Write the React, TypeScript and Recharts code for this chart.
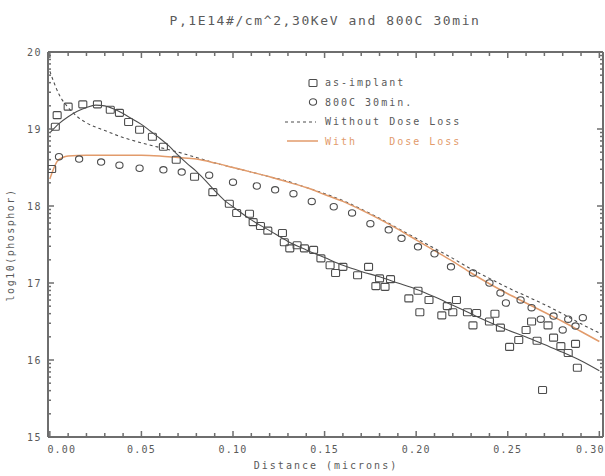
import React from 'react';
import { ComposedChart, Line, XAxis, YAxis } from 'recharts';

// measured profiles, [depth in microns, log10 concentration]
const asImplant: [number, number][] = [
  [0.001, 18.48], [0.003, 19.03], [0.004, 19.18], [0.01, 19.29], [0.018, 19.32], [0.026, 19.32],
  [0.033, 19.25], [0.038, 19.21], [0.043, 19.09], [0.049, 18.99], [0.056, 18.9], [0.062, 18.77],
  [0.069, 18.6], [0.079, 18.38], [0.089, 18.18], [0.098, 18.03], [0.102, 17.91], [0.109, 17.9],
  [0.111, 17.79], [0.115, 17.74], [0.119, 17.68], [0.127, 17.65], [0.128, 17.53], [0.131, 17.45],
  [0.135, 17.49], [0.139, 17.45], [0.144, 17.43], [0.148, 17.32], [0.153, 17.23], [0.156, 17.13],
  [0.16, 17.21], [0.168, 17.1], [0.174, 17.21], [0.178, 16.96], [0.18, 17.06], [0.183, 16.95],
  [0.186, 17.05], [0.196, 16.8], [0.201, 16.9], [0.202, 16.62], [0.207, 16.78], [0.214, 16.58],
  [0.217, 16.7], [0.22, 16.62], [0.222, 16.78], [0.228, 16.62], [0.231, 16.45], [0.233, 16.61],
  [0.24, 16.5], [0.243, 16.6], [0.246, 16.42], [0.251, 16.17], [0.256, 16.26], [0.26, 16.39],
  [0.263, 16.5], [0.266, 16.25], [0.269, 15.61], [0.272, 16.45], [0.275, 16.29], [0.279, 16.18],
  [0.283, 16.09], [0.287, 16.21], [0.288, 15.9],
];

const anneal800: [number, number][] = [
  [0.005, 18.64], [0.016, 18.61], [0.028, 18.57], [0.038, 18.53], [0.049, 18.49], [0.062, 18.47],
  [0.072, 18.44], [0.087, 18.4], [0.1, 18.31], [0.113, 18.26], [0.123, 18.21], [0.133, 18.16],
  [0.143, 18.06], [0.155, 17.99], [0.165, 17.91], [0.175, 17.77], [0.185, 17.69], [0.192, 17.58],
  [0.201, 17.47], [0.21, 17.38], [0.219, 17.21], [0.231, 17.13], [0.24, 17.0], [0.246, 16.87],
  [0.249, 16.74], [0.257, 16.78], [0.263, 16.68], [0.268, 16.53], [0.275, 16.57], [0.28, 16.39],
  [0.283, 16.53], [0.287, 16.44], [0.291, 16.55],
];

// simulated curves
const implantFit: [number, number][] = [
  [0, 18.95], [0.005, 19.07], [0.01, 19.16], [0.015, 19.23], [0.02, 19.28], [0.025, 19.31],
  [0.03, 19.3], [0.035, 19.26], [0.04, 19.2], [0.045, 19.13], [0.05, 19.06], [0.055, 18.97],
  [0.06, 18.88], [0.065, 18.78], [0.07, 18.66], [0.075, 18.55], [0.08, 18.45], [0.085, 18.33],
  [0.09, 18.2], [0.095, 18.08], [0.1, 17.99], [0.11, 17.82], [0.12, 17.68], [0.13, 17.54],
  [0.14, 17.43], [0.15, 17.33], [0.16, 17.23], [0.17, 17.15], [0.18, 17.08], [0.19, 17.0],
  [0.2, 16.92], [0.21, 16.82], [0.22, 16.71], [0.23, 16.6], [0.24, 16.49], [0.25, 16.39],
  [0.26, 16.3], [0.27, 16.2], [0.28, 16.1], [0.29, 15.99], [0.3, 15.86],
];

const withoutLoss: [number, number][] = [
  [0, 19.75], [0.002, 19.62], [0.005, 19.45], [0.01, 19.28], [0.015, 19.16], [0.02, 19.08],
  [0.03, 18.98], [0.04, 18.89], [0.05, 18.82], [0.06, 18.76], [0.07, 18.7], [0.08, 18.63],
  [0.09, 18.56], [0.1, 18.5], [0.11, 18.44], [0.12, 18.38], [0.13, 18.32], [0.14, 18.24],
  [0.15, 18.16], [0.16, 18.07], [0.17, 17.96], [0.18, 17.84], [0.19, 17.71], [0.2, 17.58],
  [0.21, 17.45], [0.22, 17.32], [0.23, 17.18], [0.24, 17.06], [0.25, 16.94], [0.26, 16.83],
  [0.27, 16.72], [0.28, 16.6], [0.29, 16.47], [0.3, 16.35],
];

const withLoss: [number, number][] = [
  [0, 18.35], [0.002, 18.48], [0.004, 18.58], [0.007, 18.63], [0.01, 18.65], [0.02, 18.66],
  [0.03, 18.66], [0.04, 18.66], [0.05, 18.66], [0.06, 18.65], [0.07, 18.63], [0.08, 18.61],
  [0.09, 18.56], [0.1, 18.5], [0.11, 18.44], [0.12, 18.38], [0.13, 18.31], [0.14, 18.24],
  [0.15, 18.15], [0.16, 18.06], [0.17, 17.95], [0.18, 17.83], [0.19, 17.7], [0.2, 17.56],
  [0.21, 17.42], [0.22, 17.28], [0.23, 17.13], [0.24, 16.99], [0.25, 16.86], [0.26, 16.74],
  [0.27, 16.62], [0.28, 16.5], [0.29, 16.37], [0.3, 16.24],
];

const xTicks = Array.from({ length: 31 }, (_, i) => +(i * 0.01).toFixed(2));
const yMajor = [15, 16, 17, 18, 19, 20];
const yMinor = [15, 16, 17, 18, 19].flatMap((d) => [2, 3, 4, 5, 6, 7, 8, 9].map((k) => d + Math.log10(k)));
const yTicks = [...yMajor, ...yMinor];

const TITLE = 'P,1E14#/cm^2,30KeV and 800C 30min';

const AXIS = '#6e6e6e';
const INK = '#4d4d4d';
const TEXT = '#5a5a5a';
const ORANGE = '#e29b6b';
const MONO = '"DejaVu Sans Mono", monospace';

const toPts = (arr: [number, number][]) => arr.map(([x, y]) => ({ x, y }));

const isMajorX = (v: number) => Math.round(v * 100) % 5 === 0;
const isMajorY = (v: number) => Math.abs(v - Math.round(v)) < 1e-6;

const BottomTick = (p: any) => {
  const v = p.payload.value;
  const major = isMajorX(v);
  // first label sits clear of the axis, last one is kept inside the frame
  const dx = v === 0 ? 12 : v >= 0.3 ? -9 : 0;
  return (
    <g>
      <line x1={p.x} y1={p.y} x2={p.x} y2={p.y - (major ? 6 : 4)} stroke={AXIS} strokeWidth={1.5} />
      {major && (
        <text x={p.x + dx} y={p.y + 16} textAnchor="middle" fill={TEXT}
          fontFamily={MONO} fontSize={10} letterSpacing={1.2}>
          {v.toFixed(2)}
        </text>
      )}
    </g>
  );
};

const TopTick = (p: any) => (
  <g>
    <line x1={p.x} y1={p.y} x2={p.x} y2={p.y + (isMajorX(p.payload.value) ? 6 : 4)} stroke={AXIS} strokeWidth={1.5} />
  </g>
);

const LeftTick = (p: any) => {
  const v = p.payload.value;
  const major = isMajorY(v);
  return (
    <g>
      <line x1={p.x} y1={p.y} x2={p.x + (major ? 6 : 3)} y2={p.y} stroke={AXIS} strokeWidth={1.5} />
      {major && (
        <text x={p.x - 6} y={p.y} dy={4} textAnchor="end" fill={TEXT}
          fontFamily={MONO} fontSize={10} letterSpacing={1.5}>
          {Math.round(v)}
        </text>
      )}
    </g>
  );
};

const RightTick = (p: any) => (
  <g>
    <line x1={p.x} y1={p.y} x2={p.x - (isMajorY(p.payload.value) ? 6 : 3)} y2={p.y} stroke={AXIS} strokeWidth={1.5} />
  </g>
);

const Square = (p: any) => (
  <rect key={'s' + p.index} x={p.cx - 4} y={p.cy - 3.5} width={8} height={7} rx={1}
    fill="none" stroke={INK} strokeWidth={1.1} />
);

const Circle = (p: any) => (
  <ellipse key={'c' + p.index} cx={p.cx} cy={p.cy} rx={3.6} ry={3.2}
    fill="none" stroke={INK} strokeWidth={1.1} />
);

const legendRows = [
  { label: 'as-implant', kind: 'square', color: TEXT },
  { label: '800C 30min.', kind: 'circle', color: TEXT },
  { label: 'Without Dose Loss', kind: 'dash', color: TEXT },
  { label: 'With    Dose Loss', kind: 'line', color: ORANGE },
];

const LegendBox = () => (
  <div style={{ position: 'absolute', left: 283, top: 73, fontFamily: MONO, fontSize: 10, letterSpacing: 2 }}>
    {legendRows.map((r) => (
      <div key={r.label} style={{ display: 'flex', alignItems: 'center', height: 19.5 }}>
        <svg width={42} height={10} style={{ display: 'block' }}>
          {r.kind === 'square' && <rect x={26} y={1.5} width={8} height={7} rx={1} fill="none" stroke={INK} strokeWidth={1.1} />}
          {r.kind === 'circle' && <ellipse cx={30} cy={5} rx={3.6} ry={3.2} fill="none" stroke={INK} strokeWidth={1.1} />}
          {r.kind === 'dash' && <line x1={2} x2={33} y1={5} y2={5} stroke={INK} strokeWidth={1.1} strokeDasharray="3 3" />}
          {r.kind === 'line' && <line x1={4} x2={35} y1={5} y2={5} stroke={ORANGE} strokeWidth={1.5} />}
        </svg>
        <span style={{ color: r.color, whiteSpace: 'pre' }}>{r.label}</span>
      </div>
    ))}
  </div>
);

const X_DOMAIN: [number, number] = [-0.001, 0.302];
const Y_DOMAIN: [number, number] = [15, 20];

export default function App() {
  return (
    <div style={{ position: 'absolute', left: 0, top: 0, width: 605, height: 476, background: '#fff' }}>
      <ComposedChart width={605} height={476} margin={{ top: 51, right: 1, bottom: 0, left: 0 }}>
        <XAxis
          dataKey="x" type="number" domain={X_DOMAIN} allowDataOverflow ticks={xTicks} interval={0}
          tickSize={0} tickMargin={0} tick={BottomTick} height={39} axisLine={{ stroke: AXIS, strokeWidth: 2 }}
          label={() => (
            <text x={326} y={469} textAnchor="middle" fill={TEXT} fontFamily={MONO} fontSize={10} letterSpacing={2}>
              Distance (microns)
            </text>
          )}
        />
        {/* frame axes: a zero-size axis box is skipped, so they get 1px */}
        <XAxis
          xAxisId="top" orientation="top" dataKey="x" type="number" domain={X_DOMAIN} allowDataOverflow
          ticks={xTicks} interval={0} tickSize={0} tickMargin={0} tick={TopTick} height={1}
          axisLine={{ stroke: AXIS, strokeWidth: 2 }}
          label={() => (
            <text x={325} y={25} textAnchor="middle" fill={TEXT} fontFamily={MONO} fontSize={13} letterSpacing={1.6}>
              {TITLE}
            </text>
          )}
        />
        <YAxis
          dataKey="y" type="number" domain={Y_DOMAIN} allowDataOverflow ticks={yTicks} interval={0}
          tickSize={0} tickMargin={0} tick={LeftTick} width={48} axisLine={{ stroke: AXIS, strokeWidth: 2 }}
          label={() => (
            <text x={14} y={245} transform="rotate(-90 14 245)" textAnchor="middle" fill={TEXT}
              fontFamily={MONO} fontSize={10} letterSpacing={1.5}>
              log10(phosphor)
            </text>
          )}
        />
        <YAxis
          yAxisId="right" orientation="right" dataKey="y" type="number" domain={Y_DOMAIN} allowDataOverflow
          ticks={yTicks} interval={0} tickSize={0} tickMargin={0} tick={RightTick} width={1}
          axisLine={{ stroke: AXIS, strokeWidth: 2 }}
        />
        <Line data={toPts(withoutLoss)} dataKey="y" type="monotone" dot={false} stroke={INK}
          strokeWidth={1.1} strokeDasharray="3 3" isAnimationActive={false} />
        <Line data={toPts(withLoss)} xAxisId="top" yAxisId="right" dataKey="y" type="monotone" dot={false}
          stroke={ORANGE} strokeWidth={1.5} isAnimationActive={false} />
        <Line data={toPts(implantFit)} dataKey="y" type="monotone" dot={false} stroke={INK}
          strokeWidth={1.1} isAnimationActive={false} />
        {/* measured points: markers only */}
        <Line data={toPts(asImplant)} dataKey="y" stroke="none" dot={Square} activeDot={false}
          isAnimationActive={false} />
        <Line data={toPts(anneal800)} dataKey="y" stroke="none" dot={Circle} activeDot={false}
          isAnimationActive={false} />
      </ComposedChart>
      <LegendBox />
    </div>
  );
}
